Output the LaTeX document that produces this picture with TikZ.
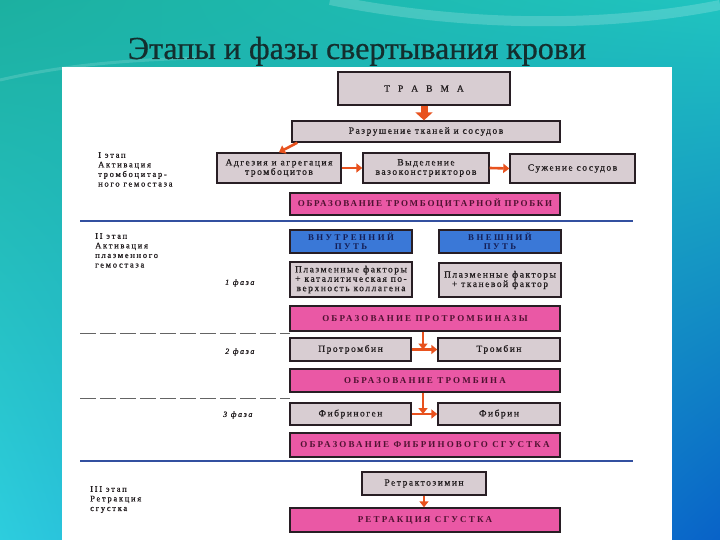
\documentclass[tikz,border=0pt]{standalone}
\usepackage{fontspec}
\setmainfont{Liberation Serif}
\newfontfamily\boxfont[LetterSpace=16,FakeBold=0.8]{Liberation Serif}
\newfontfamily\capfont[LetterSpace=24]{Liberation Serif}
\newfontfamily\capfontnarrow[LetterSpace=19]{Liberation Serif}
\newfontfamily\bluefont[LetterSpace=28]{Liberation Serif}
\newfontfamily\lblfont[LetterSpace=20,FakeBold=0.8]{Liberation Serif}
\newfontfamily\titlefont[FakeBold=0.6]{Liberation Serif}
\usetikzlibrary{arrows.meta,calc,shadings}
\definecolor{bgtl}{RGB}{28,176,160}
\definecolor{bgtr}{RGB}{32,196,192}
\definecolor{bgbl}{RGB}{45,205,222}
\definecolor{bgbr}{RGB}{8,98,200}
\definecolor{titlecol}{RGB}{20,46,46}
\definecolor{greyfill}{RGB}{216,205,210}
\definecolor{pinkfill}{RGB}{234,88,165}
\definecolor{bluefill}{RGB}{58,120,215}
\definecolor{boxline}{RGB}{40,30,36}
\definecolor{txtcol}{RGB}{35,30,32}
\definecolor{pinktxt}{RGB}{80,18,50}
\definecolor{bluetxt}{RGB}{20,30,85}
\definecolor{arrcol}{RGB}{232,82,30}
\definecolor{linecol}{RGB}{50,80,160}
\definecolor{dashcol}{RGB}{100,100,100}
\tikzset{
  greybox/.style={draw=boxline, line width=1.4pt, fill=greyfill, inner sep=0pt, align=center, text=txtcol, font=\boxfont\fontsize{9.5}{9.4}\selectfont},
  pinkbox/.style={draw=boxline, line width=1.4pt, fill=pinkfill, inner sep=0pt, align=center, text=pinktxt, font=\capfont\bfseries\fontsize{9}{9}\selectfont},
  bluebox/.style={draw=boxline, line width=1.4pt, fill=bluefill, inner sep=0pt, align=center, text=bluetxt, font=\bluefont\bfseries\fontsize{8.8}{8.6}\selectfont},
  lbl/.style={anchor=north west, inner sep=0pt, align=left, text=txtcol, font=\lblfont\fontsize{8.5}{9.6}\selectfont},
  phase/.style={anchor=west, inner sep=0pt, text=txtcol, font=\lblfont\itshape\fontsize{8}{9}\selectfont},
  arr/.style={draw=arrcol, line width=2.6pt, -{Triangle[length=6pt,width=9pt]}},
  fatarr/.style={draw=arrcol, line width=7pt, -{Triangle[length=8pt,width=17pt]}},
  sepline/.style={draw=linecol, line width=2pt},
  dashline/.style={draw=dashcol, line width=0.8pt, dash pattern=on 16pt off 4pt}
}
\begin{document}
\begin{tikzpicture}[x=1pt,y=-1pt]
\useasboundingbox (0,0) rectangle (720,540);
% background
\shade[upper left=bgtl, upper right=bgtr, lower left=bgbl, lower right=bgbr] (0,0) rectangle (720,540);
\draw[white, opacity=0.18, line width=10pt] (330,0) .. controls (480,30) and (620,25) .. (720,5);
\draw[white, opacity=0.15, line width=3pt] (0,80) .. controls (60,66) and (120,60) .. (200,58);
\fill[white] (62,67) rectangle (672,540);
% title
\node[anchor=base, text=titlecol, font=\titlefont\fontsize{32}{32}\selectfont, inner sep=0pt] (title) at (357,59) {Этапы и фазы свертывания крови};
% separators
\coordinate (l1a) at (80,221); \coordinate (l1b) at (633,221);
\coordinate (l2a) at (80,461); \coordinate (l2b) at (633,461);
\draw[sepline] (l1a) -- (l1b);
\draw[sepline] (l2a) -- (l2b);
\coordinate (d1a) at (80,333); \coordinate (d1b) at (290,333);
\coordinate (d2a) at (80,398); \coordinate (d2b) at (290,398);
\draw[dashline] (d1a) -- (d1b);
\draw[dashline] (d2a) -- (d2b);
% boxes
\node[greybox, minimum width=172pt, minimum height=33pt] (trauma) at (424,88.5) {Т\hspace{8pt}Р\hspace{8pt}А\hspace{8pt}В\hspace{8pt}М\hspace{8pt}А};
\node[greybox, minimum width=268pt, minimum height=21pt] (razr) at (426,131.5) {Разрушение тканей и сосудов};
\node[greybox, minimum width=124pt, minimum height=30pt] (adg) at (279,168) {Адгезия и агрегация\\тромбоцитов};
\node[greybox, minimum width=126pt, minimum height=30pt] (vyd) at (426,168) {Выделение\\вазоконстрикторов};
\node[greybox, minimum width=125pt, minimum height=29pt] (suzh) at (572.5,168.5) {Сужение сосудов};
\node[pinkbox, minimum width=270pt, minimum height=22pt, font=\capfontnarrow\bfseries\fontsize{9}{9}\selectfont] (probka) at (425,204) {ОБРАЗОВАНИЕ ТРОМБОЦИТАРНОЙ ПРОБКИ};
\node[bluebox, minimum width=122pt, minimum height=23pt] (vnutr) at (351,241.5) {ВНУТРЕННИЙ\\ПУТЬ};
\node[bluebox, minimum width=122pt, minimum height=23pt] (vnesh) at (500,241.5) {ВНЕШНИЙ\\ПУТЬ};
\node[greybox, minimum width=122pt, minimum height=35pt] (plaz1) at (351,279.5) {Плазменные факторы\\+ каталитическая по-\\верхность коллагена};
\node[greybox, minimum width=122pt, minimum height=34pt] (plaz2) at (500,280) {Плазменные факторы\\+ тканевой фактор};
\node[pinkbox, minimum width=270pt, minimum height=25pt] (protrombinaza) at (425,318.5) {ОБРАЗОВАНИЕ ПРОТРОМБИНАЗЫ};
\node[greybox, minimum width=121pt, minimum height=23pt] (protrombin) at (350.5,349.5) {Протромбин};
\node[greybox, minimum width=122pt, minimum height=23pt] (trombin) at (499,349.5) {Тромбин};
\node[pinkbox, minimum width=270pt, minimum height=23pt] (trombina) at (425,380.5) {ОБРАЗОВАНИЕ ТРОМБИНА};
\node[greybox, minimum width=121pt, minimum height=22pt] (fibrinogen) at (350.5,414) {Фибриноген};
\node[greybox, minimum width=122pt, minimum height=22pt] (fibrin) at (499,414) {Фибрин};
\node[pinkbox, minimum width=270pt, minimum height=24pt] (sgustok) at (425,445) {ОБРАЗОВАНИЕ ФИБРИНОВОГО СГУСТКА};
\node[greybox, minimum width=124pt, minimum height=23pt] (retrakt) at (424,483.5) {Ретрактозимин};
\node[pinkbox, minimum width=270pt, minimum height=24pt] (retrakciya) at (425,520) {РЕТРАКЦИЯ СГУСТКА};
% left labels
\node[lbl] (st1) at (98,152) {I этап\\Активация\\тромбоцитар-\\ного гемостаза};
\node[lbl] (st2) at (95,233) {II этап\\Активация\\плазменного\\гемостаза};
\node[lbl] (st3) at (90,486) {III этап\\Ретракция\\сгустка};
\node[phase] (ph1) at (225,283) {1 фаза};
\node[phase] (ph2) at (225,352) {2 фаза};
\node[phase] (ph3) at (223,415) {3 фаза};
% connectors
\draw[fatarr] (trauma.south) -- (trauma.south |- razr.north);
\draw[arr] ([xshift=6pt]razr.south west) -- (adg.north);
\draw[arr] (adg.east) -- (vyd.west);
\draw[arr] (vyd.east) -- (suzh.west);
\coordinate (j1) at (423,349.5);
\draw[arr] (protrombinaza.south -| j1) -- (j1);
\draw[arr] (protrombin.east) -- (trombin.west);
\coordinate (j2) at (423,414);
\draw[arr] (trombina.south -| j2) -- (j2);
\draw[arr] (fibrinogen.east) -- (fibrin.west);
\draw[arr] (retrakt.south) -- (retrakt.south |- retrakciya.north);
\end{tikzpicture}
\end{document}
